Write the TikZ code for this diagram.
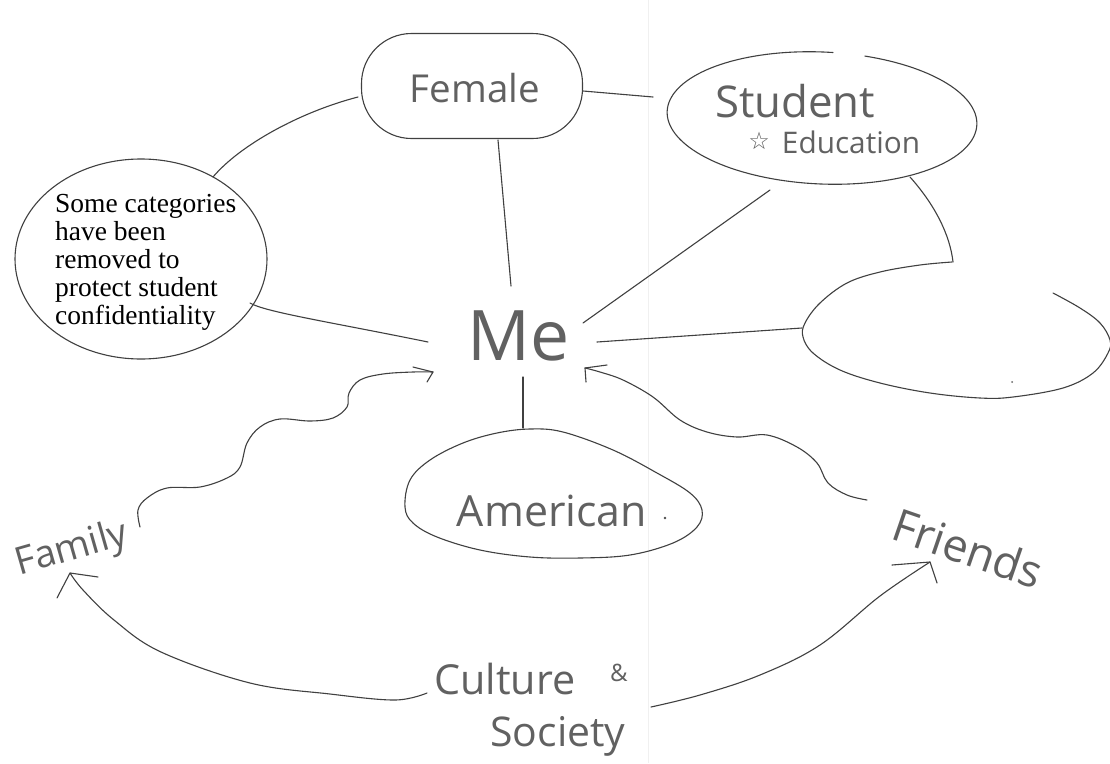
\documentclass[tikz,border=0pt]{standalone}
\usepackage{graphicx}
\usepackage{fontspec}
\setmainfont{Liberation Serif}
\newfontfamily\hwfont{Open Sans}
\newfontfamily\symfont{DejaVu Sans}
\usetikzlibrary{shapes.geometric}
\newcommand{\hw}[2]{\resizebox{#1}{!}{\hwfont #2}}
\begin{document}
\begin{tikzpicture}[x=1pt,y=-1pt,
  ink/.style={draw=black!75, line width=1.1pt, line cap=round, line join=round},
  hwtext/.style={text=black!62, inner sep=0pt},
  typed/.style={anchor=north west, inner sep=0pt, align=left, text=black,
    font=\fontsize{27.5}{28}\selectfont}]
\useasboundingbox[fill=white] (0,0) rectangle (1110,763);
% faint paper fold
\draw[black!6, line width=0.8pt] (648,0) -- (648,763);

% ---- shapes ----
\node[ink, rounded corners=50pt, minimum width=221pt, minimum height=105pt] (femalebox) at (472,86) {};
\node[ink, ellipse, minimum width=252pt, minimum height=200pt, inner sep=0pt] (cat) at (141,259) {};
% Student (gapped, slightly tilted)
\draw[ink] plot[domain=-75:273, samples=140, variable=\t]
  ({822+155*cos(\t)*cos(2.5)-66*sin(\t)*sin(2.5)}, {118+155*cos(\t)*sin(2.5)+66*sin(\t)*cos(2.5)});
% right (blank) ellipse
\draw[ink] plot[smooth, tension=0.6] coordinates {(1053,293) (1080,308) (1100,323) (1110,340) (1108,353) (1093,373) (1063,388) (1013,397) (980,398) (930,393) (880,383) (840,370) (813,353) (803,337) (805,323) (820,303) (847,283) (880,272) (920,265) (952,262)};
% American
\draw[ink] plot[smooth cycle, tension=0.6] coordinates {(405,507) (410,480) (430,460) (463,443) (497,433) (530,429) (563,432) (613,450) (657,473) (690,493) (702,510) (697,527) (673,543) (630,555) (580,558) (530,557) (480,550) (437,537) (413,523)};

% ---- texts ----
\node[hwtext] (female) at (475,88) {\hw{130pt}{Female}};
\node[hwtext] (student) at (795,101) {\hw{160pt}{Student}};
\node[hwtext] (star) at (759,141) {\symfont\fontsize{24}{24}\selectfont ☆};
\node[hwtext] (educ) at (851,142) {\hw{138pt}{Education}};
\node[hwtext] (me) at (519,336) {\hw{102pt}{Me}};
\node[hwtext] (american) at (552,511) {\hw{190pt}{American}};
\node[hwtext, rotate=16] (family) at (72,550) {\hw{115pt}{Family}};
\node[hwtext, rotate=-19] (friends) at (968,548) {\hw{155pt}{Friends}};
\node[hwtext, anchor=base] (culture) at (505,694) {\hw{141pt}{Culture}};
\node[hwtext] (amp) at (619,673) {\hwfont\fontsize{24}{24}\selectfont\&};
\node[hwtext, anchor=base] (society) at (558,746) {\hw{135pt}{Society}};
\node[typed] (cattext) at (55,194) {Some categories\\have been\\removed to\\protect student\\confidentiality};

% stray dots
\fill[black!70] (665,518) circle (1.3pt);
\fill[black!60] (1012,382) circle (1pt);

% ---- connector end points ----
\coordinate (fL) at (358,97);
\coordinate (catT) at (213,177);
\coordinate (fR) at (583,91);
\coordinate (stL) at (653,97);
\coordinate (fB) at (498,140);
\coordinate (meT) at (511,286);
\coordinate (catR) at (250,303);
\coordinate (meL) at (428,342);
\coordinate (meR) at (597,342);
\coordinate (blL) at (802,328);
\coordinate (meNE) at (583,323);
\coordinate (stB) at (770,190);
\coordinate (meB) at (523,377);
\coordinate (amT) at (523,428);
\coordinate (stBR) at (910,177);
\coordinate (blT) at (953,262);
\coordinate (famtail) at (140,527);
\coordinate (metipL) at (433,372);
\coordinate (frtail) at (867,500);
\coordinate (metipR) at (585,368);
\coordinate (cultL) at (427,693);
\coordinate (famtip) at (70,573);
\coordinate (socR) at (651,707);
\coordinate (frtip) at (930,562);

% ---- connectors ----
\draw[ink] (fL) .. controls (300,112) and (240,145) .. (catT);
\draw[ink] (fR) -- (stL);
\draw[ink] (fB) -- (meT);
\draw[ink] (catR) .. controls (265,312) and (330,322) .. (meL);
\draw[ink] (meR) -- (blL);
\draw[ink] (meNE) -- (stB);
\draw[ink] (meB) -- (amT);
\draw[ink] (stBR) .. controls (935,205) and (950,235) .. (blT);

% wavy arrow Family -> Me
\draw[ink] plot[smooth, tension=0.6] coordinates {(famtail) (138,510) (147,498) (167,488) (200,487) (227,478) (240,467) (247,443) (260,427) (280,419) (310,421) (333,418) (347,407) (349,393) (360,380) (383,374) (413,372) (metipL)};
\draw[ink] (413,367) -- (metipL) -- (427,382);

% Friends -> Me
\draw[ink] plot[smooth, tension=0.6] coordinates {(frtail) (847,495) (828,483) (817,463) (797,447) (767,435) (737,437) (707,432) (680,420) (653,397) (623,380) (600,372) (metipR)};
\draw[ink] (607,365) -- (metipR) -- (586,382);

% Culture -> Family
\draw[ink] plot[smooth, tension=0.6] coordinates {(cultL) (395,700) (330,694) (250,683) (161,652) (114,620) (83,590) (famtip)};
\draw[ink] (57,598) -- (famtip) -- (98,577);

% Society -> Friends
\draw[ink] plot[smooth, tension=0.6] coordinates {(socR) (700,695) (760,675) (820,645) (880,596) (frtip)};
\draw[ink] (892,565) -- (frtip) -- (937,583);
\end{tikzpicture}
\end{document}
